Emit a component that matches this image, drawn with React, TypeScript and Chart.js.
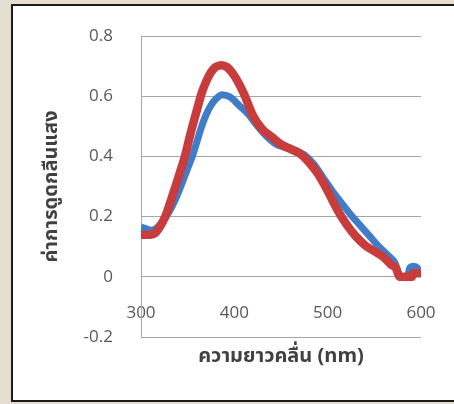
import React, { useEffect, useRef } from 'react';
import { Chart, registerables } from 'chart.js';

Chart.register(...registerables);

// Blue series (wavelength nm, absorbance)
const blueWavelength = [300, 305, 310, 315, 320, 330, 340, 350, 355, 360, 365, 370, 375, 380, 387, 395, 405, 415, 425, 435, 445, 455, 465, 475, 485, 495, 505, 515, 525, 535, 545, 555, 565, 572, 576, 578, 582, 586, 588, 592, 596, 599, 600];
const blueAbsorbance = [0.165, 0.16, 0.155, 0.158, 0.172, 0.215, 0.28, 0.36, 0.4, 0.45, 0.5, 0.54, 0.57, 0.59, 0.605, 0.598, 0.57, 0.54, 0.5, 0.465, 0.44, 0.43, 0.42, 0.405, 0.375, 0.33, 0.285, 0.245, 0.205, 0.17, 0.135, 0.1, 0.07, 0.047, 0.01, 0.0, 0.0, 0.005, 0.03, 0.035, 0.03, 0.012, 0.01];

// Red series (wavelength nm, absorbance)
const redWavelength = [300, 305, 310, 315, 320, 326, 330, 340, 347, 353, 360, 365, 370, 375, 380, 386, 392, 400, 410, 420, 430, 440, 450, 460, 470, 480, 490, 500, 510, 520, 530, 540, 550, 560, 568, 573, 576, 578, 585, 590, 592, 600];
const redAbsorbance = [0.14, 0.14, 0.14, 0.145, 0.165, 0.2, 0.235, 0.33, 0.4, 0.475, 0.555, 0.61, 0.65, 0.68, 0.697, 0.703, 0.697, 0.668, 0.61, 0.535, 0.49, 0.465, 0.44, 0.425, 0.41, 0.38, 0.34, 0.285, 0.225, 0.175, 0.135, 0.105, 0.085, 0.065, 0.04, 0.03, 0.005, 0.0, 0.0, 0.0, 0.012, 0.012];

const xTickValues = [300, 400, 500, 600];
const yTickValues = [-0.2, 0, 0.2, 0.4, 0.6, 0.8];
const yTickLabels = ['-0.2', '0', '0.2', '0.4', '0.6', '0.8'];
const xAxisTitle = 'ความยาวคลื่น (nm)';
const yAxisTitle = 'ค่าการดูดกลืนแสง';

const tickFont = { family: '"Open Sans", "Noto Sans", sans-serif', size: 17 };
const thaiFamily = '"Noto Sans Thai", "Noto Sans Thai UI", "Noto Sans", "Open Sans", sans-serif';

export default function App() {
  const canvasRef = useRef<HTMLCanvasElement | null>(null);

  useEffect(() => {
    document.body.style.margin = '0';
    const canvas = canvasRef.current;
    if (!canvas) return;
    const chart = new Chart(canvas, {
      type: 'line',
      data: {
        datasets: [
          {
            label: 'red',
            data: redWavelength.map((x, i) => ({ x, y: redAbsorbance[i] })),
            borderColor: '#c83c3c',
            borderWidth: 8.5,
            pointRadius: 0,
            fill: false,
            cubicInterpolationMode: 'monotone',
            borderCapStyle: 'butt',
            borderJoinStyle: 'round',
          },
          {
            label: 'blue',
            data: blueWavelength.map((x, i) => ({ x, y: blueAbsorbance[i] })),
            borderColor: '#3f7dc8',
            borderWidth: 7,
            pointRadius: 0,
            fill: false,
            cubicInterpolationMode: 'monotone',
            borderCapStyle: 'butt',
            borderJoinStyle: 'round',
          },
        ],
      },
      options: {
        responsive: false,
        animation: false,
        layout: { padding: { left: 0, right: 33, top: 36, bottom: 0 } },
        plugins: {
          legend: { display: false },
          tooltip: { enabled: false },
          title: {
            display: true,
            position: 'bottom',
            fullSize: false,
            text: xAxisTitle,
            color: '#404040',
            font: { family: thaiFamily, size: 20, weight: 'bold' },
            padding: { top: 9, bottom: 34 },
          },
        },
        scales: {
          x: {
            type: 'linear',
            min: 300,
            max: 600,
            position: { y: 0 },
            afterBuildTicks: (scale: any) => {
              scale.ticks = xTickValues.map((v) => ({ value: v }));
            },
            afterFit: (scale: any) => {
              scale.paddingLeft = 0;
              scale.paddingRight = 0;
            },
            grid: { display: false, drawTicks: false },
            border: { display: false },
            ticks: {
              color: '#595959',
              font: tickFont,
              padding: 26,
              maxRotation: 0,
              autoSkip: false,
              callback: (v: any) => String(v),
            },
          },
          y: {
            type: 'linear',
            min: -0.2,
            max: 0.8,
            afterBuildTicks: (scale: any) => {
              scale.ticks = yTickValues.map((v) => ({ value: v }));
            },
            afterFit: (scale: any) => {
              scale.width = 141;
              scale.paddingTop = 0;
              scale.paddingBottom = 0;
            },
            grid: { color: '#a6a6a6', lineWidth: 1, drawTicks: false },
            border: { display: true, color: '#a6a6a6', width: 1 },
            ticks: {
              color: '#595959',
              font: tickFont,
              padding: 28,
              callback: (v: any) => {
                const i = yTickValues.findIndex((t) => Math.abs(t - Number(v)) < 1e-9);
                return i >= 0 ? yTickLabels[i] : '';
              },
            },
            title: {
              display: true,
              text: yAxisTitle,
              color: '#404040',
              font: { family: thaiFamily, size: 20, weight: 'bold' },
              padding: { top: 41, bottom: 0 },
            },
          },
        },
      },
    } as any);
    return () => chart.destroy();
  }, []);

  return (
    <div style={{ position: 'fixed', left: 0, top: 0, width: 454, height: 404, overflow: 'hidden', background: '#e4ded0' }}>
      <div
        style={{
          position: 'absolute',
          left: 11,
          top: 4,
          width: 480,
          height: 394,
          border: '2px solid #1c1c1c',
          background: '#ffffff',
        }}
      />
      <canvas
        ref={canvasRef}
        width={454}
        height={404}
        style={{ position: 'absolute', left: 0, top: 0, width: 454, height: 404, display: 'block' }}
      />
    </div>
  );
}
